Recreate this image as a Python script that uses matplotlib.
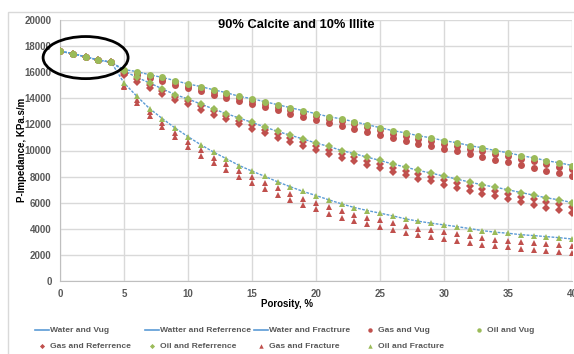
import matplotlib.pyplot as plt
from matplotlib.patches import Ellipse, Rectangle
from matplotlib.lines import Line2D

plt.rcParams['font.family'] = ['Liberation Sans', 'DejaVu Sans']

# porosity, %
poro = list(range(0, 41))

# shared low-porosity segment (0-4 %)
common = [17600, 17430, 17170, 16940, 16760]

# P-impedance (KPa.s/m) for 5..40 % porosity
oil_vug = [16200, 16050, 15800, 15600, 15350, 15100, 14900, 14650, 14430, 14150,
           13970, 13740, 13510, 13280, 13050, 12820, 12590, 12420, 12200, 11980,
           11750, 11520, 11350, 11130, 10970, 10750, 10600, 10370, 10210, 9990,
           9830, 9610, 9440, 9220, 9060, 8850]
oil_ref = [16100, 15610, 15180, 14720, 14280, 13950, 13560, 13180, 12820, 12490,
           12150, 11800, 11460, 11170, 10880, 10570, 10310, 10000, 9750, 9490,
           9240, 8960, 8730, 8470, 8270, 8030, 7810, 7580, 7370, 7190,
           6990, 6780, 6580, 6370, 6220, 6010]
oil_frac = [15180, 14160, 13210, 12440, 11720, 11060, 10440, 9880, 9370, 8850,
            8420, 8020, 7600, 7220, 6860, 6550, 6220, 5910, 5630, 5400,
            5200, 4990, 4760, 4580, 4430, 4300, 4170, 4020, 3860, 3740,
            3660, 3550, 3480, 3400, 3320, 3220]

# gas points sit in two rows below each oil point
gas_vug_hi = [16100, 15950, 15690, 15490, 15230, 14970, 14770, 14510, 14290, 14000,
              13820, 13580, 13340, 13110, 12870, 12640, 12400, 12230, 12000, 11770,
              11540, 11300, 11130, 10900, 10740, 10510, 10350, 10120, 9950, 9730,
              9560, 9340, 9160, 8930, 8770, 8550]
gas_vug_lo = [15950, 15790, 15520, 15300, 15040, 14770, 14560, 14290, 14060, 13760,
              13570, 13320, 13070, 12830, 12580, 12340, 12090, 11910, 11670, 11430,
              11190, 10940, 10760, 10520, 10350, 10110, 9940, 9700, 9520, 9290,
              9110, 8880, 8690, 8450, 8280, 8050]
gas_ref_hi = [15950, 15460, 15020, 14560, 14110, 13770, 13380, 12990, 12630, 12290,
              11950, 11590, 11240, 10950, 10650, 10340, 10070, 9760, 9500, 9230,
              8980, 8690, 8460, 8190, 7990, 7740, 7510, 7280, 7060, 6880,
              6670, 6460, 6250, 6030, 5880, 5660]
gas_ref_lo = [15750, 15250, 14810, 14340, 13880, 13540, 13140, 12750, 12380, 12030,
              11680, 11320, 10970, 10670, 10360, 10040, 9770, 9450, 9190, 8910,
              8650, 8360, 8120, 7850, 7630, 7380, 7150, 6910, 6690, 6490,
              6280, 6060, 5850, 5630, 5460, 5240]
gas_frac_hi = [14980, 13900, 12930, 12120, 11370, 10680, 10040, 9460, 8930, 8400,
               7960, 7540, 7100, 6700, 6320, 5990, 5660, 5350, 5070, 4840,
               4640, 4430, 4200, 4020, 3870, 3740, 3610, 3460, 3300, 3180,
               3100, 2990, 2920, 2840, 2760, 2660]
gas_frac_lo = [14830, 13640, 12630, 11790, 11000, 10270, 9590, 9010, 8480, 7940,
               7500, 7070, 6620, 6220, 5830, 5500, 5160, 4850, 4570, 4330,
               4130, 3920, 3690, 3510, 3350, 3220, 3090, 2940, 2780, 2660,
               2570, 2460, 2390, 2310, 2230, 2130]

blue = '#5B9BD5'
red = '#C0504D'
green = '#9BBB59'
txt = '#595959'

W, H = 574, 354
fig = plt.figure(figsize=(W / 100, H / 100), dpi=100)
ax = fig.add_axes([60 / W, 1 - 281 / H, 512 / W, 261 / H])

# outer chart border
fig.patches.append(Rectangle((8 / W, -0.1), 1.2, 1 - 12 / H + 0.1,
                             transform=fig.transFigure, fill=False,
                             edgecolor='#d9d9d9', linewidth=1))

for oil in [oil_vug, oil_ref, oil_frac]:
    ax.plot(poro, common + oil, color=blue, lw=1, linestyle=(0, (2, 1)), zorder=2)

gas_marks = [('o', gas_vug_hi, gas_vug_lo),
             ('D', gas_ref_hi, gas_ref_lo),
             ('^', gas_frac_hi, gas_frac_lo)]
for m, hi, lo in gas_marks:
    ms = 4.0 if m == 'D' else 5.0
    ax.plot(poro, common + hi, m, color=red, ms=ms, mew=0, zorder=3)
    ax.plot(poro, common + lo, m, color=red, ms=ms, mew=0, zorder=3)

for m, oil in [('o', oil_vug), ('D', oil_ref), ('^', oil_frac)]:
    ms = 4.0 if m == 'D' else 5.0
    ax.plot(poro, common + oil, m, color=green, ms=ms, mew=0, zorder=4)

ax.set_xlim(0, 40)
ax.set_ylim(0, 20000)
ax.set_xticks(range(0, 41, 5))
ax.set_yticks(range(0, 20001, 2000))
ax.grid(True, color='#d9d9d9', lw=1)
ax.set_axisbelow(True)
for s in ['top', 'right']:
    ax.spines[s].set_visible(False)
for s in ['left', 'bottom']:
    ax.spines[s].set_color('#bfbfbf')
ax.tick_params(length=0, labelsize=7, labelcolor=txt, pad=6)
for lab in ax.get_xticklabels() + ax.get_yticklabels():
    lab.set_fontweight('bold')

ax.add_patch(Ellipse((2.0, 17120), 6.64, 3225, fill=False, edgecolor='black',
                     lw=2, clip_on=False, zorder=5))

fig.text(296 / W, 1 - 25 / H, '90% Calcite and 10% Illite', ha='center',
         va='center', fontsize=9.3, fontweight='bold')
fig.text(22 / W, 1 - 150 / H, 'P-Impedance, KPa.s/m', rotation=90, ha='center',
         va='center', fontsize=7, fontweight='bold')
fig.text(287 / W, 1 - 304 / H, 'Porosity, %', ha='center', va='center',
         fontsize=7, fontweight='bold')

# legend laid out like the Excel one: fixed-width columns, filled row by row
legend_labels = ['Water and Vug', 'Watter and Referrence', 'Water and Fractrure',
                 'Gas and Vug', 'Oil and Vug', 'Gas and Referrence',
                 'Oil and Referrence', 'Gas and Fracture', 'Oil and Fracture']
legend_styles = [('line', blue), ('line', blue), ('line', blue),
                 ('o', red), ('o', green), ('D', red), ('D', green),
                 ('^', red), ('^', green)]
col_x = [50, 160, 269, 378, 487]
row_y = [330, 346]
for i, (label, (kind, col)) in enumerate(zip(legend_labels, legend_styles)):
    x0 = col_x[i % 5]
    y0 = 1 - row_y[i // 5] / H
    if kind == 'line':
        fig.add_artist(Line2D([(x0 - 15) / W, (x0 - 1) / W], [y0, y0],
                              color=col, lw=1.2, transform=fig.transFigure))
    else:
        fig.add_artist(Line2D([(x0 - 8) / W], [y0], marker=kind, color=col,
                              ms=2.6 if kind == 'D' else 3.2, mew=0,
                              linestyle='None', transform=fig.transFigure))
    fig.text(x0 / W, y0, label, ha='left', va='center', fontsize=6.1,
             fontweight='bold', color=txt)

fig.savefig('out.png', dpi=100)
